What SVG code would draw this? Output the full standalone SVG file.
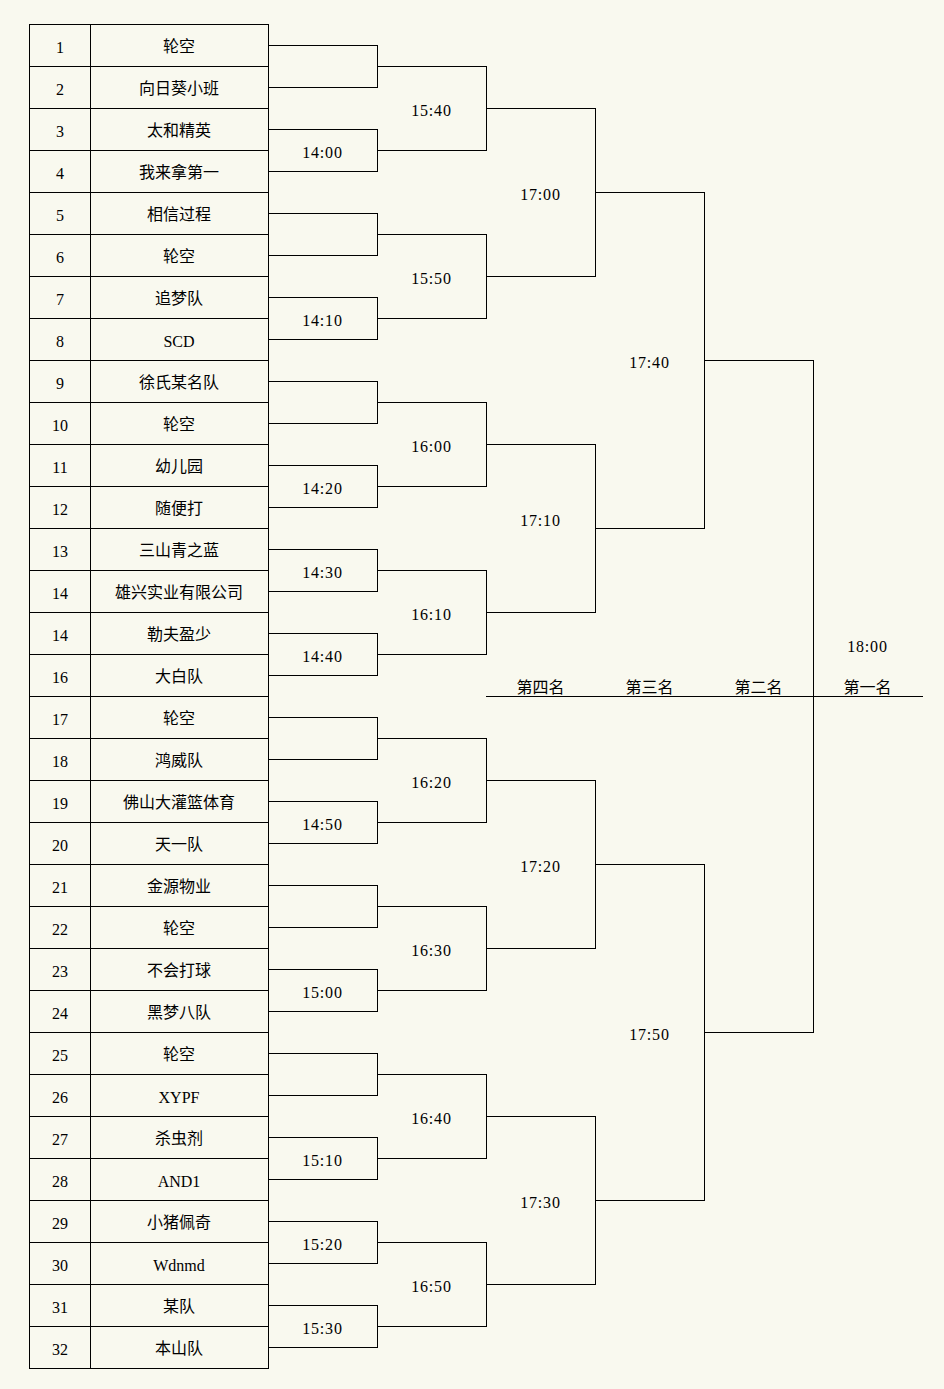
<svg xmlns="http://www.w3.org/2000/svg" width="944" height="1389" viewBox="0 0 944 1389">
<style>
.ln{fill:none;stroke:#000;stroke-width:1;shape-rendering:crispEdges}
.n{font-family:"Liberation Serif","DejaVu Serif",serif;font-size:16px;fill:#000;text-anchor:middle}
.t{letter-spacing:0.8px}
.c{font-family:"Noto Sans CJK SC","Noto Sans CJK TC",sans-serif;font-size:16px;fill:#000;text-anchor:middle}
</style>
<rect x="0" y="0" width="944" height="1389" fill="#f9f9ef"/>
<g id="table">
<rect class="ln" x="29.5" y="24.5" width="239" height="1344"/>
<path class="ln" d="M90.5 24.5V1368.5M30 66.5H268M30 108.5H268M30 150.5H268M30 192.5H268M30 234.5H268M30 276.5H268M30 318.5H268M30 360.5H268M30 402.5H268M30 444.5H268M30 486.5H268M30 528.5H268M30 570.5H268M30 612.5H268M30 654.5H268M30 696.5H268M30 738.5H268M30 780.5H268M30 822.5H268M30 864.5H268M30 906.5H268M30 948.5H268M30 990.5H268M30 1032.5H268M30 1074.5H268M30 1116.5H268M30 1158.5H268M30 1200.5H268M30 1242.5H268M30 1284.5H268M30 1326.5H268"/>
</g>
<g id="team-1"><text class="n" x="60" y="52.5">1</text><text class="c" x="179" y="52">轮空</text></g>
<g id="team-2"><text class="n" x="60" y="94.5">2</text><text class="c" x="179" y="94">向日葵小班</text></g>
<g id="team-3"><text class="n" x="60" y="136.5">3</text><text class="c" x="179" y="136">太和精英</text></g>
<g id="team-4"><text class="n" x="60" y="178.5">4</text><text class="c" x="179" y="178">我来拿第一</text></g>
<g id="team-5"><text class="n" x="60" y="220.5">5</text><text class="c" x="179" y="220">相信过程</text></g>
<g id="team-6"><text class="n" x="60" y="262.5">6</text><text class="c" x="179" y="262">轮空</text></g>
<g id="team-7"><text class="n" x="60" y="304.5">7</text><text class="c" x="179" y="304">追梦队</text></g>
<g id="team-8"><text class="n" x="60" y="346.5">8</text><text class="n" x="179" y="346.5">SCD</text></g>
<g id="team-9"><text class="n" x="60" y="388.5">9</text><text class="c" x="179" y="388">徐氏某名队</text></g>
<g id="team-10"><text class="n" x="60" y="430.5">10</text><text class="c" x="179" y="430">轮空</text></g>
<g id="team-11"><text class="n" x="60" y="472.5">11</text><text class="c" x="179" y="472">幼儿园</text></g>
<g id="team-12"><text class="n" x="60" y="514.5">12</text><text class="c" x="179" y="514">随便打</text></g>
<g id="team-13"><text class="n" x="60" y="556.5">13</text><text class="c" x="179" y="556">三山青之蓝</text></g>
<g id="team-14"><text class="n" x="60" y="598.5">14</text><text class="c" x="179" y="598">雄兴实业有限公司</text></g>
<g id="team-15"><text class="n" x="60" y="640.5">14</text><text class="c" x="179" y="640">勒夫盈少</text></g>
<g id="team-16"><text class="n" x="60" y="682.5">16</text><text class="c" x="179" y="682">大白队</text></g>
<g id="team-17"><text class="n" x="60" y="724.5">17</text><text class="c" x="179" y="724">轮空</text></g>
<g id="team-18"><text class="n" x="60" y="766.5">18</text><text class="c" x="179" y="766">鸿威队</text></g>
<g id="team-19"><text class="n" x="60" y="808.5">19</text><text class="c" x="179" y="808">佛山大灌篮体育</text></g>
<g id="team-20"><text class="n" x="60" y="850.5">20</text><text class="c" x="179" y="850">天一队</text></g>
<g id="team-21"><text class="n" x="60" y="892.5">21</text><text class="c" x="179" y="892">金源物业</text></g>
<g id="team-22"><text class="n" x="60" y="934.5">22</text><text class="c" x="179" y="934">轮空</text></g>
<g id="team-23"><text class="n" x="60" y="976.5">23</text><text class="c" x="179" y="976">不会打球</text></g>
<g id="team-24"><text class="n" x="60" y="1018.5">24</text><text class="c" x="179" y="1018">黑梦八队</text></g>
<g id="team-25"><text class="n" x="60" y="1060.5">25</text><text class="c" x="179" y="1060">轮空</text></g>
<g id="team-26"><text class="n" x="60" y="1102.5">26</text><text class="n" x="179" y="1102.5">XYPF</text></g>
<g id="team-27"><text class="n" x="60" y="1144.5">27</text><text class="c" x="179" y="1144">杀虫剂</text></g>
<g id="team-28"><text class="n" x="60" y="1186.5">28</text><text class="n" x="179" y="1186.5">AND1</text></g>
<g id="team-29"><text class="n" x="60" y="1228.5">29</text><text class="c" x="179" y="1228">小猪佩奇</text></g>
<g id="team-30"><text class="n" x="60" y="1270.5">30</text><text class="n" x="179" y="1270.5">Wdnmd</text></g>
<g id="team-31"><text class="n" x="60" y="1312.5">31</text><text class="c" x="179" y="1312">某队</text></g>
<g id="team-32"><text class="n" x="60" y="1354.5">32</text><text class="c" x="179" y="1354">本山队</text></g>
<g id="connectors">
<path class="ln" d="M268 45.5H377.5V87.5H268M268 129.5H377.5V171.5H268M268 213.5H377.5V255.5H268M268 297.5H377.5V339.5H268M268 381.5H377.5V423.5H268M268 465.5H377.5V507.5H268M268 549.5H377.5V591.5H268M268 633.5H377.5V675.5H268M268 717.5H377.5V759.5H268M268 801.5H377.5V843.5H268M268 885.5H377.5V927.5H268M268 969.5H377.5V1011.5H268M268 1053.5H377.5V1095.5H268M268 1137.5H377.5V1179.5H268M268 1221.5H377.5V1263.5H268M268 1305.5H377.5V1347.5H268"/>
<path class="ln" d="M377.5 66.5H486.5V150.5H377.5M377.5 234.5H486.5V318.5H377.5M377.5 402.5H486.5V486.5H377.5M377.5 570.5H486.5V654.5H377.5M377.5 738.5H486.5V822.5H377.5M377.5 906.5H486.5V990.5H377.5M377.5 1074.5H486.5V1158.5H377.5M377.5 1242.5H486.5V1326.5H377.5"/>
<path class="ln" d="M486.5 108.5H595.5V276.5H486.5M486.5 444.5H595.5V612.5H486.5M486.5 780.5H595.5V948.5H486.5M486.5 1116.5H595.5V1284.5H486.5"/>
<path class="ln" d="M595.5 192.5H704.5V528.5H595.5M595.5 864.5H704.5V1200.5H595.5"/>
<path class="ln" d="M704.5 360.5H813.5V1032.5H704.5"/>
<path class="ln" d="M486 696.5H923"/>
</g>
<g id="times">
<text class="n t" x="322.5" y="157.5">14:00</text>
<text class="n t" x="322.5" y="325.5">14:10</text>
<text class="n t" x="322.5" y="493.5">14:20</text>
<text class="n t" x="322.5" y="577.5">14:30</text>
<text class="n t" x="322.5" y="661.5">14:40</text>
<text class="n t" x="322.5" y="829.5">14:50</text>
<text class="n t" x="322.5" y="997.5">15:00</text>
<text class="n t" x="322.5" y="1165.5">15:10</text>
<text class="n t" x="322.5" y="1249.5">15:20</text>
<text class="n t" x="322.5" y="1333.5">15:30</text>
<text class="n t" x="431.5" y="115.5">15:40</text>
<text class="n t" x="431.5" y="283.5">15:50</text>
<text class="n t" x="431.5" y="451.5">16:00</text>
<text class="n t" x="431.5" y="619.5">16:10</text>
<text class="n t" x="431.5" y="787.5">16:20</text>
<text class="n t" x="431.5" y="955.5">16:30</text>
<text class="n t" x="431.5" y="1123.5">16:40</text>
<text class="n t" x="431.5" y="1291.5">16:50</text>
<text class="n t" x="540.5" y="199.5">17:00</text>
<text class="n t" x="540.5" y="525.5">17:10</text>
<text class="n t" x="540.5" y="871.5">17:20</text>
<text class="n t" x="540.5" y="1207.5">17:30</text>
<text class="n t" x="649.5" y="367.5">17:40</text>
<text class="n t" x="649.5" y="1039.5">17:50</text>
<text class="n t" x="867.5" y="651.5">18:00</text>
</g>
<g id="places">
<text class="c" x="540.5" y="693">第四名</text>
<text class="c" x="649.5" y="693">第三名</text>
<text class="c" x="758.5" y="693">第二名</text>
<text class="c" x="867.5" y="693">第一名</text>
</g>
</svg>
